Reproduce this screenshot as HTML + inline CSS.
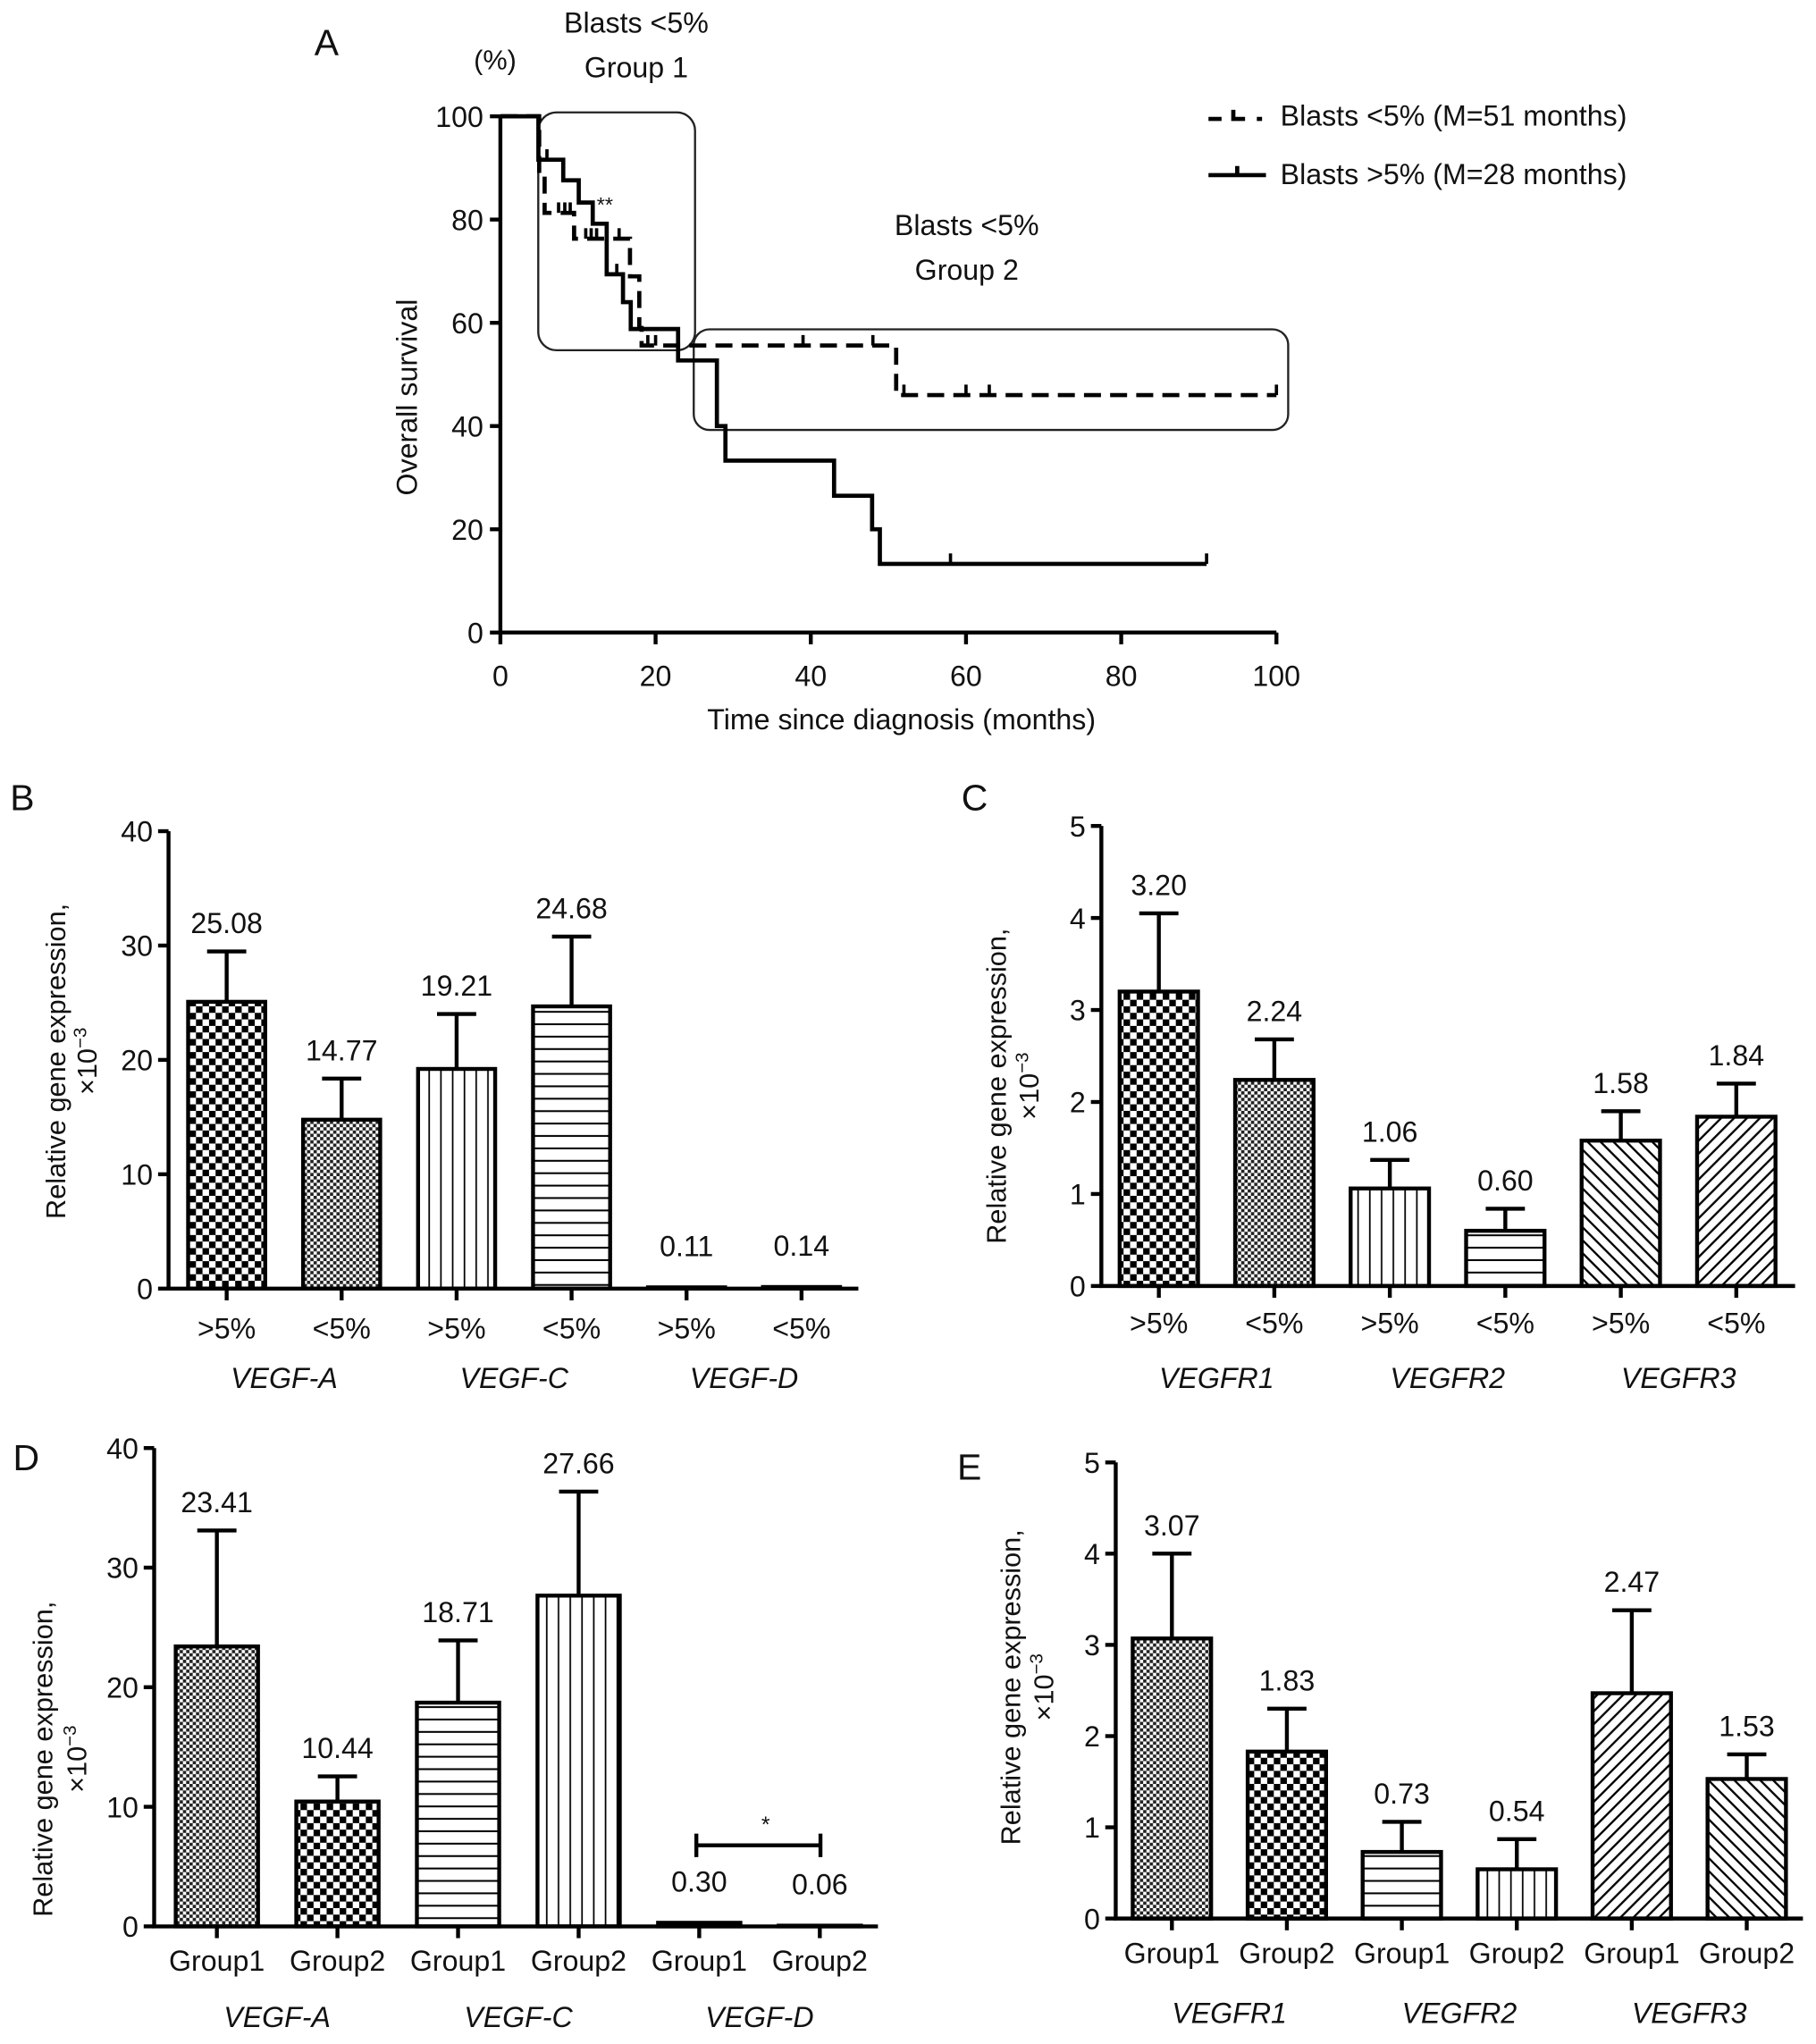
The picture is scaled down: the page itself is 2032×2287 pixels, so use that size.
<!DOCTYPE html>
<html><head><meta charset="utf-8">
<style>
html,body{margin:0;padding:0;background:#fff;}
svg{display:block;font-family:"Liberation Sans",Arial,sans-serif;}
text{fill:#111;}
</style></head>
<body>
<svg id="fig" width="2032" height="2287" viewBox="0 0 1390 1564" preserveAspectRatio="none" xmlns="http://www.w3.org/2000/svg">
<defs>
  <pattern id="checkL" patternUnits="userSpaceOnUse" width="10" height="10">
    <rect width="10" height="10" fill="#fff"/><rect x="0" y="0" width="5" height="5" fill="#000"/><rect x="5" y="5" width="5" height="5" fill="#000"/>
  </pattern>
  <pattern id="checkS" patternUnits="userSpaceOnUse" width="5" height="5">
    <rect width="5" height="5" fill="#fff"/><rect x="0" y="0" width="2.5" height="2.5" fill="#222"/><rect x="2.5" y="2.5" width="2.5" height="2.5" fill="#222"/>
  </pattern>
  <pattern id="vlines" patternUnits="userSpaceOnUse" width="9" height="10">
    <rect width="9" height="10" fill="#fff"/><line x1="4.5" y1="0" x2="4.5" y2="10" stroke="#000" stroke-width="1.2"/>
  </pattern>
  <pattern id="hlines" patternUnits="userSpaceOnUse" width="10" height="9.5">
    <rect width="10" height="9.5" fill="#fff"/><line x1="0" y1="4.7" x2="10" y2="4.7" stroke="#000" stroke-width="1.4"/>
  </pattern>
  <pattern id="diagF" patternUnits="userSpaceOnUse" width="7" height="7" patternTransform="rotate(45)">
    <rect width="7" height="7" fill="#fff"/><line x1="3.5" y1="0" x2="3.5" y2="7" stroke="#000" stroke-width="1.6"/>
  </pattern>
  <pattern id="diagB" patternUnits="userSpaceOnUse" width="7" height="7" patternTransform="rotate(-45)">
    <rect width="7" height="7" fill="#fff"/><line x1="3.5" y1="0" x2="3.5" y2="7" stroke="#000" stroke-width="1.6"/>
  </pattern>
</defs>
<g id="root"></g>
</svg>
<script>
// ---------- Panel A data (Kaplan–Meier) ----------
const kmSolidTimes = [0, 4.9, 8.1, 10.1, 11.9, 13.7, 15.8, 16.8, 22.9, 27.9, 29, 43, 47.9, 48.9, 91];
const kmSolidSurv  = [100, 91.6, 87.6, 83.3, 79.2, 69.4, 64, 58.8, 52.7, 40, 33.3, 26.5, 20, 13.3, 13.3];
const kmSolidCensor = [6, 15, 58, 91];
const kmDashTimes = [0, 5, 5.7, 9.5, 16.7, 17.9, 18.2, 51, 100];
const kmDashSurv  = [100, 89, 81.3, 76.3, 69, 59, 55.6, 46, 46];
const kmDashCensor = [7.5, 8.3, 9, 11, 11.7, 12.4, 15.3, 19, 20, 39, 48, 52, 60, 63, 100];
const kmXTicks = [0, 20, 40, 60, 80, 100];
const kmYTicks = [0, 20, 40, 60, 80, 100];

// ---------- Panel B ----------
const bCats = [">5%", "<5%", ">5%", "<5%", ">5%", "<5%"];
const bValues = [25.08, 14.77, 19.21, 24.68, 0.11, 0.14];
const bErrors = [4.4, 3.6, 4.8, 6.1, 0, 0];
const bLabels = ["25.08", "14.77", "19.21", "24.68", "0.11", "0.14"];
const bGenes = ["VEGF-A", "VEGF-C", "VEGF-D"];
const bTicks = [0, 10, 20, 30, 40];
// ---------- Panel C ----------
const cCats = [">5%", "<5%", ">5%", "<5%", ">5%", "<5%"];
const cValues = [3.20, 2.24, 1.06, 0.60, 1.58, 1.84];
const cErrors = [0.85, 0.44, 0.31, 0.24, 0.32, 0.36];
const cLabels = ["3.20", "2.24", "1.06", "0.60", "1.58", "1.84"];
const cGenes = ["VEGFR1", "VEGFR2", "VEGFR3"];
const cTicks = [0, 1, 2, 3, 4, 5];
// ---------- Panel D ----------
const dCats = ["Group1", "Group2", "Group1", "Group2", "Group1", "Group2"];
const dValues = [23.41, 10.44, 18.71, 27.66, 0.30, 0.06];
const dErrors = [9.7, 2.1, 5.2, 8.7, 0, 0];
const dLabels = ["23.41", "10.44", "18.71", "27.66", "0.30", "0.06"];
const dGenes = ["VEGF-A", "VEGF-C", "VEGF-D"];
const dTicks = [0, 10, 20, 30, 40];
// ---------- Panel E ----------
const eCats = ["Group1", "Group2", "Group1", "Group2", "Group1", "Group2"];
const eValues = [3.07, 1.83, 0.73, 0.54, 2.47, 1.53];
const eErrors = [0.93, 0.47, 0.33, 0.33, 0.91, 0.27];
const eLabels = ["3.07", "1.83", "0.73", "0.54", "2.47", "1.53"];
const eGenes = ["VEGFR1", "VEGFR2", "VEGFR3"];
const eTicks = [0, 1, 2, 3, 4, 5];

const NS = "http://www.w3.org/2000/svg";
const root = document.getElementById("root");
function mk(tag, attrs, parent, txt) {
  const e = document.createElementNS(NS, tag);
  for (const k in attrs) e.setAttribute(k, attrs[k]);
  if (txt !== undefined) e.textContent = txt;
  (parent || root).appendChild(e);
  return e;
}

// ================= Panel A =================
(function () {
  const g = mk("g", {});
  
  
  const x0 = 383, x1 = 977, y0 = 484, y1 = 89;
  const X = t => x0 + (t / 100) * (x1 - x0);
  const Y = s => y0 - (s / 100) * (y0 - y1);
  const lbl = mk("text", {x: 250, y: 42, "font-size": 28, "text-anchor": "middle"}, g, "A");
  
  
  const b1 = mk("rect", {x: 412, y: 86, width: 120, height: 182, rx: 14, fill: "none", stroke: "#222", "stroke-width": 1.6}, g);
  
  
  const b2 = mk("rect", {x: 531, y: 252, width: 455, height: 77, rx: 12, fill: "none", stroke: "#222", "stroke-width": 1.6}, g);
  
  
  const ax = mk("path", {d: `M${x0} ${y1} V${y0} H${x1}`, fill: "none", stroke: "#000", "stroke-width": 3}, g);
  
  
  kmYTicks.forEach(v => {
    mk("line", {x1: x0 - 8, x2: x0, y1: Y(v), y2: Y(v), stroke: "#000", "stroke-width": 3}, g);
    const t = mk("text", {x: x0 - 13, y: Y(v) + 8, "font-size": 22, "text-anchor": "end"}, g, String(v));
    
    
  });
  kmXTicks.forEach(v => {
    mk("line", {x1: X(v), x2: X(v), y1: y0, y2: y0 + 9, stroke: "#000", "stroke-width": 3}, g);
    const t = mk("text", {x: X(v), y: 525, "font-size": 22, "text-anchor": "middle"}, g, String(v));
    
    
  });
  const xt = mk("text", {x: 690, y: 558, "font-size": 22, "text-anchor": "middle"}, g, "Time since diagnosis (months)");
  
  
  const yt = mk("text", {x: 0, y: 0, "font-size": 22, "text-anchor": "middle", transform: "translate(319,304) rotate(-90)"}, g, "Overall survival");
  
  
  const pc = mk("text", {x: 379, y: 53, "font-size": 21, "text-anchor": "middle"}, g, "(%)");
  
  
  [["Blasts <5%", 487, 25], ["Group 1", 487, 59], ["Blasts <5%", 740, 180], ["Group 2", 740, 214]].forEach(a => {
    const t = mk("text", {x: a[1], y: a[2], "font-size": 22, "text-anchor": "middle"}, g, a[0]);
    
    
  });
  function stepPath(ts, ss) {
    let d = `M${X(ts[0])} ${Y(ss[0])}`;
    for (let i = 1; i < ts.length; i++) d += ` H${X(ts[i])} V${Y(ss[i])}`;
    return d;
  }
  function survAt(ts, ss, t) { let s = ss[0]; for (let i = 0; i < ts.length; i++) if (ts[i] <= t) s = ss[i]; return s; }
  const dashed = mk("path", {d: stepPath(kmDashTimes, kmDashSurv), fill: "none", stroke: "#000", "stroke-width": 3.2, "stroke-dasharray": "13 7"}, g);
  
  
  kmDashCensor.forEach(t => {
    const s = survAt(kmDashTimes, kmDashSurv, t);
    const c = mk("line", {x1: X(t), x2: X(t), y1: Y(s), y2: Y(s) - 8, stroke: "#000", "stroke-width": 2.5}, g);
    
    
  });
  const solid = mk("path", {d: stepPath(kmSolidTimes, kmSolidSurv), fill: "none", stroke: "#000", "stroke-width": 3.2}, g);
  
  
  kmSolidCensor.forEach(t => {
    const s = survAt(kmSolidTimes, kmSolidSurv, t);
    const c = mk("line", {x1: X(t), x2: X(t), y1: Y(s), y2: Y(s) - 8, stroke: "#000", "stroke-width": 2.5}, g);
    
    
  });
  const st = mk("text", {x: 463, y: 162, "font-size": 16, "text-anchor": "middle"}, g, "**");
  
  
  const l1 = mk("g", {}, g);
  
  
  mk("path", {d: "M925 91 H935 M944 84 V91 H953 M962 91 H966", fill: "none", stroke: "#000", "stroke-width": 3.2}, l1);
  mk("text", {x: 980, y: 96, "font-size": 22}, l1, "Blasts <5% (M=51 months)");
  const l2 = mk("g", {}, g);
  
  
  mk("path", {d: "M925 134 H969 M947 134 V127", fill: "none", stroke: "#000", "stroke-width": 3.2}, l2);
  mk("text", {x: 980, y: 141, "font-size": 22}, l2, "Blasts >5% (M=28 months)");
})();

// ================= Bar panels =================
function barPanel(cfg, cats, values, errors, labels, genes, ticks) {
  const g = mk("g", {});
  
  
  const tmax = ticks[ticks.length - 1];
  const Y = v => cfg.y0 - (v / tmax) * (cfg.y0 - cfg.y1);
  const L = mk("text", {x: cfg.letter[0], y: cfg.letter[1], "font-size": 28, "text-anchor": "middle"}, g, cfg.letterText);
  
  
  const yt = mk("text", {"font-size": 21, "text-anchor": "middle", transform: `translate(${cfg.ylab[0]},${cfg.ylab[2]}) rotate(-90)`}, g, "Relative gene expression,");
  
  
  const yt2 = mk("text", {"font-size": 21, "text-anchor": "middle", transform: `translate(${cfg.ylab[1]},${cfg.ylab[2]}) rotate(-90)`}, g);
  
  
  mk("tspan", {}, yt2, "×10");
  mk("tspan", {dy: -8, "font-size": 14}, yt2, "−3");
  cats.forEach((c, i) => {
    const cx = cfg.c0 + i * cfg.step;
    const top = Y(values[i]);
    const bar = mk("rect", {x: cx - cfg.bw / 2, y: top, width: cfg.bw, height: Math.max(cfg.y0 - top, 0.5), fill: `url(#${cfg.fills[i]})`, stroke: "#000", "stroke-width": 3}, g);
    
    
    let labY;
    if (errors[i] > 0) {
      const et = Y(values[i] + errors[i]);
      const eb = mk("path", {d: `M${cx} ${top} V${et} M${cx - 15} ${et} H${cx + 15}`, stroke: "#000", "stroke-width": 3, fill: "none"}, g);
      
      
      labY = et - 14;
    } else {
      labY = top - 24;
    }
    const vt = mk("text", {x: cx, y: labY, "font-size": 22, "text-anchor": "middle"}, g, labels[i]);
    
    
    mk("line", {x1: cx, x2: cx, y1: cfg.y0, y2: cfg.y0 + 9, stroke: "#000", "stroke-width": 3}, g);
    const ct = mk("text", {x: cx, y: cfg.catY, "font-size": 22, "text-anchor": "middle"}, g, c);
    
    
  });
  genes.forEach((gn, j) => {
    const cx = cfg.c0 + (2 * j + 0.5) * cfg.step;
    const t = mk("text", {x: cx, y: cfg.geneY, "font-size": 22, "font-style": "italic", "text-anchor": "middle"}, g, gn);
    
    
  });
  const ax = mk("path", {d: `M${cfg.ax} ${cfg.y1} V${cfg.y0} H${cfg.xend}`, fill: "none", stroke: "#000", "stroke-width": 3}, g);
  
  
  ticks.forEach(v => {
    mk("line", {x1: cfg.ax - 8, x2: cfg.ax, y1: Y(v), y2: Y(v), stroke: "#000", "stroke-width": 3}, g);
    const t = mk("text", {x: cfg.ax - 12, y: Y(v) + 8, "font-size": 22, "text-anchor": "end"}, g, String(v));
    
    
  });
  return {g, Y};
}

barPanel({name: "panel-b-vegf-blasts", letterText: "B", letter: [17, 620], ylab: [50, 74, 812],
  ax: 129, y0: 986, y1: 636, xend: 657, c0: 173.5, step: 88, bw: 59, catY: 1024, geneY: 1062,
  fills: ["checkL", "checkS", "vlines", "hlines", "hlines", "hlines"]},
  bCats, bValues, bErrors, bLabels, bGenes, bTicks);

barPanel({name: "panel-c-vegfr-blasts", letterText: "C", letter: [746, 620], ylab: [770, 795, 831],
  ax: 843, y0: 984, y1: 632, xend: 1374, c0: 887, step: 88.4, bw: 60, catY: 1020, geneY: 1062,
  fills: ["checkL", "checkS", "vlines", "hlines", "diagB", "diagF"]},
  cCats, cValues, cErrors, cLabels, cGenes, cTicks);

barPanel({name: "panel-d-vegf-groups", letterText: "D", letter: [20, 1125], ylab: [40, 66, 1346],
  ax: 118, y0: 1474, y1: 1108, xend: 672, c0: 166, step: 92.3, bw: 63, catY: 1508, geneY: 1551,
  fills: ["checkS", "checkL", "hlines", "vlines", "hlines", "hlines"]},
  dCats, dValues, dErrors, dLabels, dGenes, dTicks);
(function () {
  const br = mk("path", {d: "M533 1403 V1421 M533 1412 H628 M628 1403 V1421", stroke: "#000", "stroke-width": 3, fill: "none"});
  
  
  const s = mk("text", {x: 586, y: 1402, "font-size": 17, "text-anchor": "middle"}, root, "*");
  
  
})();

barPanel({name: "panel-e-vegfr-groups", letterText: "E", letter: [742, 1132], ylab: [781, 806, 1291],
  ax: 854, y0: 1468, y1: 1119, xend: 1380, c0: 897, step: 88, bw: 60, catY: 1502, geneY: 1548,
  fills: ["checkS", "checkL", "hlines", "vlines", "diagF", "diagB"]},
  eCats, eValues, eErrors, eLabels, eGenes, eTicks);
</script>
</body></html>
